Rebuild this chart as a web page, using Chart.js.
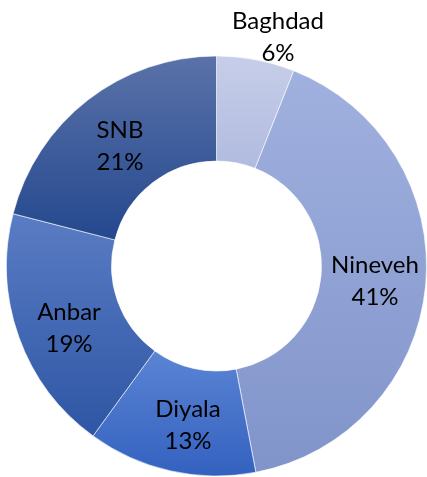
<!DOCTYPE html>
<html>
<head>
<meta charset="utf-8">
<script src="https://cdn.jsdelivr.net/npm/chart.js@4.4.0/dist/chart.umd.min.js"></script>
<style>
html,body{margin:0;padding:0;background:#fff;}
#wrap{width:427px;height:477px;position:relative;}
</style>
</head>
<body>
<div id="wrap"><canvas id="c" width="427" height="477"></canvas></div>
<script>
const categories = ['Baghdad', 'Nineveh', 'Diyala', 'Anbar', 'SNB'];
const shares = [6, 41, 13, 19, 21];
const percentLabels = ['6%', '41%', '13%', '19%', '21%'];
const topColors = ['#c6cee9', '#a0b1df', '#5b84d4', '#5a7cc4', '#5a72a9'];
const bottomColors = ['#b1bbdf', '#8194ca', '#3361bf', '#2e56a4', '#24488e'];
const labelPos = [
  {x: 278, y: 21},
  {x: 375, y: 265},
  {x: 188, y: 409},
  {x: 69, y: 312},
  {x: 120, y: 130}
];

function sliceGradient(ctx) {
  const chart = ctx.chart;
  const area = chart.chartArea;
  const i = ctx.dataIndex;
  if (!area) return topColors[i];
  const cx = (area.left + area.right) / 2;
  const cy = (area.top + area.bottom) / 2;
  const R = Math.min(area.right - area.left, area.bottom - area.top) / 2;
  const r = R * 0.5;
  const total = shares.reduce((a, b) => a + b, 0);
  let start = 0;
  for (let k = 0; k < i; k++) start += shares[k];
  const a0 = -Math.PI / 2 + 2 * Math.PI * start / total;
  const a1 = a0 + 2 * Math.PI * shares[i] / total;
  const ys = [];
  const n = 60;
  for (let s = 0; s <= n; s++) {
    const a = a0 + (a1 - a0) * s / n;
    ys.push(cy + R * Math.sin(a));
    ys.push(cy + r * Math.sin(a));
  }
  const ymin = Math.min(...ys), ymax = Math.max(...ys);
  const g = chart.ctx.createLinearGradient(0, ymin, 0, ymax);
  g.addColorStop(0, topColors[i]);
  g.addColorStop(1, bottomColors[i]);
  return g;
}

const labelPlugin = {
  id: 'sliceLabels',
  afterDatasetsDraw(chart) {
    const ctx = chart.ctx;
    ctx.save();
    ctx.fillStyle = '#000';
    ctx.font = '24px Lato, "Open Sans", sans-serif';
    ctx.textAlign = 'center';
    ctx.textBaseline = 'middle';
    chart.data.labels.forEach((lab, i) => {
      const p = labelPos[i];
      ctx.fillText(lab, p.x, p.y);
      ctx.fillText(percentLabels[i], p.x, p.y + 32);
    });
    ctx.restore();
  }
};

new Chart(document.getElementById('c'), {
  type: 'doughnut',
  data: {
    labels: categories,
    datasets: [{
      data: shares,
      backgroundColor: sliceGradient,
      borderColor: 'rgba(255,255,255,0.6)',
      borderWidth: 1
    }]
  },
  options: {
    responsive: false,
    animation: false,
    cutout: '50%',
    layout: {padding: {top: 55, bottom: -4, left: 6, right: -5}},
    plugins: {legend: {display: false}, tooltip: {enabled: false}}
  },
  plugins: [labelPlugin]
});
</script>
</body>
</html>
